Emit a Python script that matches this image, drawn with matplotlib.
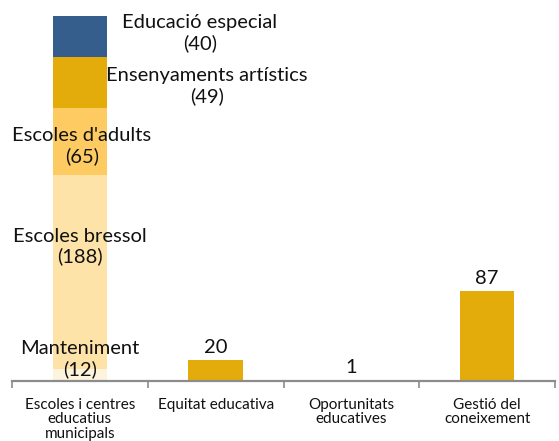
import matplotlib
matplotlib.use("Agg")
import matplotlib.pyplot as plt

categories = ["Escoles i centres\neducatius\nmunicipals", "Equitat educativa",
              "Oportunitats\neducatives", "Gestió del\nconeixement"]
stack_names = ["Manteniment", "Escoles bressol", "Escoles d'adults",
               "Ensenyaments artístics", "Educació especial"]
stack_values = [12, 188, 65, 49, 40]
stack_colors = ["#FEF3DD", "#FEE3A9", "#FDCB62", "#E3AC0B", "#355E8D"]
other_values = [20, 1, 87]
bar_color = "#E3AC0B"

plt.rcParams['font.family'] = ['Lato', 'DejaVu Sans']

fig = plt.figure(figsize=(5.59, 4.41), dpi=100)
ax = fig.add_axes([12/559, 1-381/441, 543/559, 371/441])

w = 0.4
bottom = 0
# (x offset in category units, vertical position as fraction of segment or abs offset)
label_offsets = [
    (0.0, None, 21),
    (0.0, 0.63, None),
    (0.015, 0.43, None),
    (0.936, 0.43, None),
    (0.884, 0.59, None),
]
for i, (name, v, c) in enumerate(zip(stack_names, stack_values, stack_colors)):
    ax.bar(0, v, width=w, bottom=bottom, color=c, edgecolor='none')
    dx, fy, ab = label_offsets[i]
    y = bottom + (ab if ab is not None else v * fy)
    ax.text(0 + dx, y, f"{name}\n({v})", ha='center', va='center', fontsize=14.5,
            color='#111111', linespacing=1.2)
    bottom += v

for j, v in enumerate(other_values, start=1):
    ax.bar(j, v, width=w, color=bar_color, edgecolor='none')
    ax.text(j, v + 4, str(v), ha='center', va='bottom', fontsize=14.5, color='#111111')

ax.set_xlim(-0.5, 3.5)
ax.set_ylim(0, 360)
ax.set_yticks([])
for s in ['top', 'right', 'left']:
    ax.spines[s].set_visible(False)
ax.spines['bottom'].set_color('#8c8c8c')
ax.spines['bottom'].set_linewidth(1.6)
ax.spines['bottom'].set_zorder(5)

ax.set_xticks(range(len(categories)))
ax.set_xticklabels(categories, fontsize=11, color='#111111', linespacing=1.05)
ax.tick_params(axis='x', which='major', length=0, pad=12)
ax.set_xticks([-0.5, 0.5, 1.5, 2.5, 3.5], minor=True)
ax.tick_params(axis='x', which='minor', length=5, width=1.2, color='#8c8c8c', direction='out')

fig.savefig("out.png", dpi=100)
